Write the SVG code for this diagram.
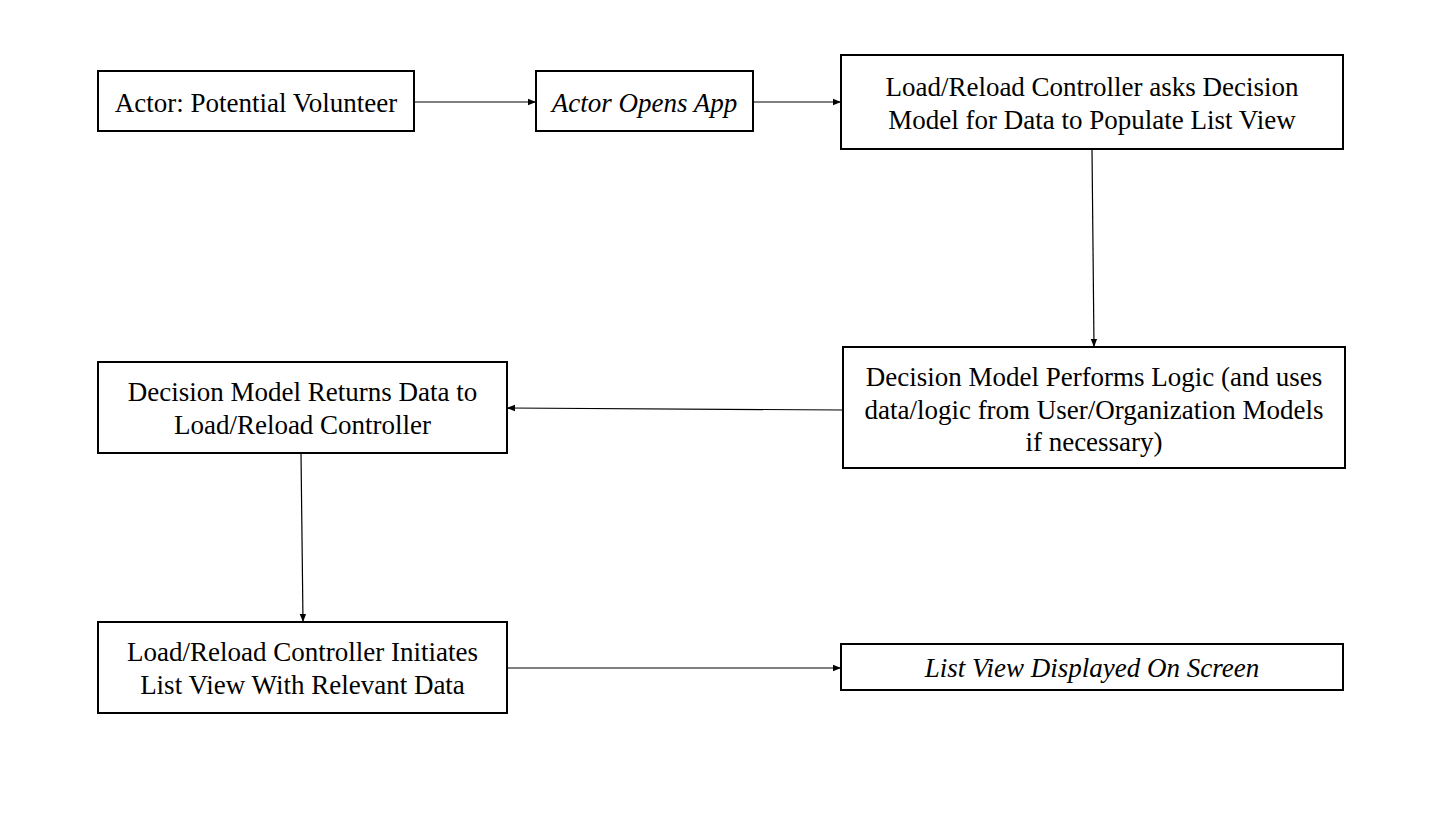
<svg xmlns="http://www.w3.org/2000/svg" width="1452" height="816" viewBox="0 0 1452 816">
<style>
.box{fill:#fff;stroke:#000;stroke-width:2}
.t{font-family:'Liberation Serif','DejaVu Serif',serif;font-size:27px;fill:#000;text-anchor:middle}
.i{font-style:italic}
.c{stroke:#000;stroke-width:1.2;fill:none;marker-end:url(#ah)}
</style>
<defs>
<marker id="ah" viewBox="0 0 10 10" refX="10" refY="5" markerWidth="8" markerHeight="8" markerUnits="userSpaceOnUse" orient="auto">
<path d="M0,1 L10,5 L0,9 z" fill="#000"/>
</marker>
</defs>
<rect width="1452" height="816" fill="#fff"/>
<g id="connectors">
<line class="c" x1="414" y1="102" x2="536" y2="102"/>
<line class="c" x1="753" y1="102" x2="841" y2="102"/>
<line class="c" x1="1092" y1="149" x2="1094" y2="347"/>
<line class="c" x1="843" y1="410" x2="507" y2="408"/>
<line class="c" x1="301" y1="453" x2="303" y2="622"/>
<line class="c" x1="507" y1="668" x2="841" y2="668"/>
</g>
<g id="n1">
<rect class="box" x="98" y="71" width="316" height="60"/>
<text class="t" x="256" y="112">Actor: Potential Volunteer</text>
</g>
<g id="n2">
<rect class="box" x="536" y="71" width="217" height="60"/>
<text class="t i" x="644.5" y="112">Actor Opens App</text>
</g>
<g id="n3">
<rect class="box" x="841" y="55" width="502" height="94"/>
<text class="t" x="1092" y="96">Load/Reload Controller asks Decision</text>
<text class="t" x="1092" y="129">Model for Data to Populate List View</text>
</g>
<g id="n4">
<rect class="box" x="843" y="347" width="502" height="121"/>
<text class="t" x="1094" y="386">Decision Model Performs Logic (and uses</text>
<text class="t" x="1094" y="419">data/logic from User/Organization Models</text>
<text class="t" x="1094" y="451">if necessary)</text>
</g>
<g id="n5">
<rect class="box" x="98" y="362" width="409" height="91"/>
<text class="t" x="302.5" y="401">Decision Model Returns Data to</text>
<text class="t" x="302.5" y="434">Load/Reload Controller</text>
</g>
<g id="n6">
<rect class="box" x="98" y="622" width="409" height="91"/>
<text class="t" x="302.5" y="661">Load/Reload Controller Initiates</text>
<text class="t" x="302.5" y="694">List View With Relevant Data</text>
</g>
<g id="n7">
<rect class="box" x="841" y="644" width="502" height="46"/>
<text class="t i" x="1092" y="677">List View Displayed On Screen</text>
</g>
</svg>
